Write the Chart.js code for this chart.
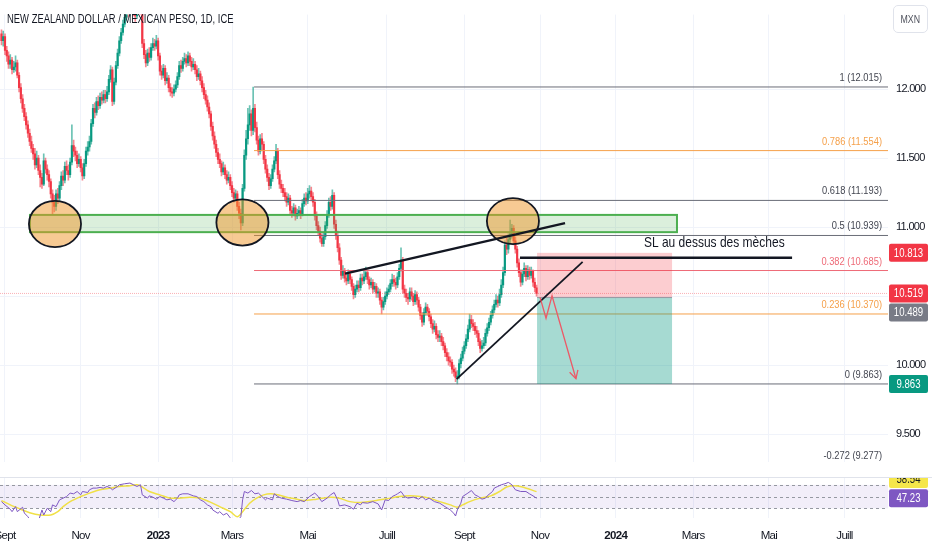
<!DOCTYPE html>
<html lang="fr">
<head>
<meta charset="utf-8">
<title>NZD/MXN 1D</title>
<script src="https://cdn.jsdelivr.net/npm/chart.js@4.4.1/dist/chart.umd.min.js"></script>
<style>
  html, body { margin: 0; background: #ffffff; }
  #wrap { position: relative; width: 932px; height: 550px; overflow: hidden; }
  canvas { position: absolute; left: 0; }
  #main { top: 0; }
  #rsi { top: 477px; }
  #sep { position: absolute; left: 0; top: 477px; width: 932px; height: 1px; background: #e0e3eb; }
  #title { position: absolute; left: 7px; top: 12px; font: 12.5px 'Liberation Sans', Arial, sans-serif; line-height: 14px; color: #131722; white-space: nowrap; transform: scaleX(0.755); transform-origin: 0 0; }
  #unit { position: absolute; left: 893px; top: 5px; width: 35px; height: 28px; box-sizing: border-box; border: 1px solid #e0e3eb; border-radius: 5px; font: 11px 'Liberation Sans', Arial, sans-serif; color: #50535e; display: flex; align-items: center; justify-content: center; }
  #unit span { display: inline-block; transform: scaleX(0.8); }
</style>
</head>
<body>
<div id="wrap">
  <canvas id="main" width="932" height="477"></canvas>
  <canvas id="rsi" width="932" height="73"></canvas>
  <div id="sep"></div>
  <div id="title">NEW ZEALAND DOLLAR / MEXICAN PESO, 1D, ICE</div>
  <div id="unit"><span>MXN</span></div>
</div>
<script>
const FONT = "'Liberation Sans', Arial, sans-serif";
Chart.defaults.font.family = FONT;
Chart.defaults.color = '#131722';

// x = trading-day index, 0 = 1 Sept 2022
const FIRST_BAR = -2;
const X_MIN = -2.84, X_MAX = 501.7;
const Y_MIN = 9.2946, Y_MAX = 12.5395;
const RSI_MIN = 13.6, RSI_MAX = 83.4;
const UP = '#089981', DOWN = '#f23645';

const monthTicks = [0, 43, 87, 129, 172, 217, 261, 304, 347, 391, 434, 477];
const monthLabels = ['Sept', 'Nov', '2023', 'Mars', 'Mai', 'Juill', 'Sept', 'Nov', '2024', 'Mars', 'Mai', 'Juill'];
const priceTicks = [9.5, 10, 10.5, 11, 11.5, 12];

// daily candles, bars -2 .. 302
const opens = [
  12.40, 12.35, 12.38, 12.28, 12.24, 12.18, 12.21, 12.14, 12.16, 12.19,
  12.10, 12.01, 11.93, 11.86, 11.80, 11.74, 11.68, 11.62, 11.57, 11.53,
  11.45, 11.50, 11.41, 11.36, 11.31, 11.48, 11.42, 11.38, 11.33, 11.24,
  11.18, 11.15, 11.24, 11.21, 11.30, 11.37, 11.34, 11.44, 11.41, 11.38,
  11.47, 11.59, 11.55, 11.52, 11.46, 11.49, 11.43, 11.37, 11.46, 11.55,
  11.58, 11.62, 11.75, 11.86, 11.83, 11.91, 11.88, 11.94, 11.92, 11.96,
  11.93, 11.98, 12.07, 12.14, 11.91, 12.05, 12.17, 12.26, 12.35, 12.41,
  12.47, 12.52, 12.57, 12.55, 12.60, 12.62, 12.56, 12.53, 12.58, 12.61,
  12.57, 12.33, 12.25, 12.19, 12.26, 12.23, 12.30, 12.33, 12.31, 12.35,
  12.24, 12.13, 12.10, 12.15, 12.06, 12.08, 12.01, 11.98, 11.97, 12.00,
  12.03, 12.09, 12.17, 12.15, 12.20, 12.22, 12.19, 12.24, 12.20, 12.16,
  12.18, 12.14, 12.09, 12.11, 12.06, 12.01, 11.96, 11.92, 11.87, 11.82,
  11.73, 11.66, 11.60, 11.54, 11.49, 11.46, 11.40, 11.43, 11.38, 11.34,
  11.36, 11.30, 11.25, 11.21, 11.24, 11.15, 11.10, 11.03, 11.28, 11.52,
  11.64, 11.74, 11.82, 11.70, 11.86, 11.72, 11.63, 11.55, 11.64, 11.60,
  11.49, 11.42, 11.36, 11.30, 11.35, 11.42, 11.48, 11.55, 11.38, 11.31,
  11.28, 11.25, 11.22, 11.18, 11.21, 11.12, 11.10, 11.14, 11.08, 11.10,
  11.12, 11.09, 11.17, 11.21, 11.19, 11.24, 11.26, 11.22, 11.18, 11.08,
  11.01, 10.97, 10.92, 10.88, 10.93, 11.01, 11.09, 11.18, 11.15, 11.23,
  11.02, 10.94, 10.85, 10.76, 10.65, 10.68, 10.63, 10.61, 10.66, 10.62,
  10.57, 10.51, 10.55, 10.58, 10.56, 10.63, 10.61, 10.64, 10.67, 10.62,
  10.58, 10.60, 10.55, 10.57, 10.52, 10.53, 10.47, 10.42, 10.46, 10.50,
  10.53, 10.55, 10.59, 10.62, 10.60, 10.58, 10.64, 10.70, 10.76, 10.55,
  10.52, 10.49, 10.48, 10.53, 10.50, 10.46, 10.51, 10.47, 10.42, 10.36,
  10.31, 10.38, 10.42, 10.39, 10.35, 10.30, 10.26, 10.28, 10.22, 10.20,
  10.21, 10.17, 10.14, 10.09, 10.06, 10.03, 10.02, 9.97, 9.95, 9.91,
  9.92, 10.01, 10.05, 10.10, 10.14, 10.19, 10.26, 10.33, 10.30, 10.28,
  10.25, 10.23, 10.17, 10.12, 10.14, 10.16, 10.23, 10.27, 10.31, 10.36,
  10.40, 10.44, 10.47, 10.45, 10.51, 10.58, 10.67, 10.87, 10.84, 10.91,
  10.95, 10.99, 10.90, 10.84, 10.74, 10.67, 10.60, 10.66, 10.70, 10.64,
  10.69, 10.65, 10.68, 10.60, 10.56
];
const highs = [
  12.43, 12.42, 12.40, 12.31, 12.27, 12.25, 12.23, 12.20, 12.24, 12.21,
  12.12, 12.04, 11.96, 11.89, 11.83, 11.77, 11.71, 11.66, 11.60, 11.57,
  11.55, 11.52, 11.45, 11.39, 11.53, 11.50, 11.45, 11.41, 11.35, 11.27,
  11.23, 11.27, 11.28, 11.33, 11.40, 11.41, 11.47, 11.48, 11.45, 11.50,
  11.74, 11.63, 11.58, 11.55, 11.53, 11.51, 11.46, 11.49, 11.58, 11.62,
  11.66, 11.78, 11.89, 11.90, 11.94, 11.95, 11.97, 11.98, 11.99, 11.99,
  12.02, 12.10, 12.17, 12.16, 12.08, 12.20, 12.29, 12.38, 12.44, 12.50,
  12.55, 12.60, 12.61, 12.64, 12.66, 12.64, 12.59, 12.61, 12.65, 12.63,
  12.59, 12.36, 12.28, 12.29, 12.30, 12.33, 12.37, 12.36, 12.39, 12.37,
  12.26, 12.17, 12.18, 12.17, 12.12, 12.10, 12.04, 12.01, 12.03, 12.06,
  12.12, 12.20, 12.21, 12.23, 12.26, 12.25, 12.27, 12.26, 12.23, 12.22,
  12.20, 12.17, 12.15, 12.13, 12.09, 12.04, 11.99, 11.95, 11.90, 11.84,
  11.76, 11.69, 11.63, 11.57, 11.53, 11.48, 11.47, 11.45, 11.41, 11.40,
  11.38, 11.33, 11.28, 11.27, 11.26, 11.18, 11.13, 11.31, 11.56, 11.70,
  11.86, 11.88, 11.85, 12.015, 11.89, 11.76, 11.66, 11.67, 11.68, 11.62,
  11.52, 11.45, 11.39, 11.38, 11.45, 11.51, 11.60, 11.57, 11.41, 11.34,
  11.31, 11.28, 11.25, 11.24, 11.23, 11.15, 11.17, 11.16, 11.13, 11.15,
  11.14, 11.20, 11.24, 11.25, 11.28, 11.30, 11.29, 11.25, 11.20, 11.11,
  11.04, 11.00, 10.95, 10.96, 11.04, 11.12, 11.21, 11.22, 11.27, 11.25,
  11.05, 10.97, 10.88, 10.78, 10.72, 10.70, 10.66, 10.69, 10.68, 10.64,
  10.59, 10.58, 10.61, 10.61, 10.66, 10.66, 10.68, 10.71, 10.69, 10.64,
  10.63, 10.62, 10.60, 10.59, 10.56, 10.55, 10.49, 10.49, 10.53, 10.56,
  10.58, 10.62, 10.66, 10.65, 10.63, 10.67, 10.73, 10.85, 10.78, 10.58,
  10.55, 10.52, 10.56, 10.56, 10.52, 10.54, 10.53, 10.49, 10.44, 10.38,
  10.41, 10.45, 10.44, 10.41, 10.37, 10.33, 10.32, 10.30, 10.25, 10.25,
  10.23, 10.20, 10.16, 10.12, 10.09, 10.06, 10.04, 10.00, 9.98, 9.96,
  10.04, 10.08, 10.13, 10.17, 10.22, 10.29, 10.37, 10.36, 10.33, 10.31,
  10.28, 10.25, 10.19, 10.18, 10.20, 10.26, 10.30, 10.34, 10.39, 10.43,
  10.47, 10.51, 10.50, 10.55, 10.62, 10.71, 10.90, 10.92, 10.95, 11.05,
  11.02, 11.01, 10.93, 10.86, 10.77, 10.69, 10.69, 10.74, 10.72, 10.72,
  10.71, 10.71, 10.69, 10.63, 10.58
];
const lows = [
  12.32, 12.31, 12.25, 12.20, 12.15, 12.15, 12.11, 12.12, 12.13, 12.08,
  11.98, 11.90, 11.83, 11.77, 11.71, 11.65, 11.59, 11.54, 11.49, 11.42,
  11.43, 11.38, 11.29, 11.28, 11.30, 11.39, 11.34, 11.29, 11.21, 11.09,
  11.11, 11.12, 11.17, 11.19, 11.27, 11.30, 11.32, 11.38, 11.34, 11.36,
  11.45, 11.51, 11.48, 11.43, 11.44, 11.40, 11.34, 11.35, 11.44, 11.52,
  11.55, 11.60, 11.73, 11.79, 11.81, 11.85, 11.86, 11.89, 11.90, 11.90,
  11.91, 11.96, 12.05, 11.88, 11.89, 12.03, 12.15, 12.24, 12.33, 12.39,
  12.45, 12.50, 12.52, 12.53, 12.57, 12.53, 12.49, 12.51, 12.55, 12.54,
  12.30, 12.22, 12.16, 12.17, 12.20, 12.21, 12.28, 12.28, 12.29, 12.21,
  12.10, 12.07, 12.08, 12.03, 12.04, 11.98, 11.95, 11.94, 11.95, 11.98,
  12.01, 12.07, 12.12, 12.13, 12.18, 12.16, 12.17, 12.17, 12.13, 12.14,
  12.11, 12.06, 12.07, 12.03, 11.98, 11.93, 11.89, 11.84, 11.79, 11.70,
  11.63, 11.57, 11.51, 11.46, 11.43, 11.37, 11.38, 11.35, 11.31, 11.32,
  11.27, 11.22, 11.18, 11.19, 11.12, 11.06, 10.98, 11.01, 11.26, 11.49,
  11.60, 11.70, 11.66, 11.67, 11.69, 11.60, 11.52, 11.53, 11.56, 11.46,
  11.39, 11.33, 11.27, 11.28, 11.33, 11.40, 11.46, 11.35, 11.28, 11.25,
  11.22, 11.19, 11.15, 11.16, 11.09, 11.07, 11.08, 11.05, 11.06, 11.08,
  11.06, 11.08, 11.15, 11.16, 11.17, 11.21, 11.19, 11.15, 11.05, 10.98,
  10.94, 10.89, 10.86, 10.86, 10.91, 10.99, 11.07, 11.12, 11.13, 10.99,
  10.91, 10.82, 10.73, 10.62, 10.63, 10.60, 10.58, 10.59, 10.59, 10.54,
  10.48, 10.49, 10.53, 10.53, 10.54, 10.58, 10.59, 10.62, 10.59, 10.55,
  10.56, 10.52, 10.53, 10.49, 10.49, 10.44, 10.37, 10.40, 10.44, 10.48,
  10.51, 10.53, 10.57, 10.57, 10.55, 10.56, 10.62, 10.68, 10.52, 10.49,
  10.46, 10.44, 10.46, 10.47, 10.43, 10.44, 10.44, 10.39, 10.33, 10.28,
  10.29, 10.36, 10.36, 10.32, 10.27, 10.23, 10.24, 10.19, 10.17, 10.17,
  10.14, 10.11, 10.06, 10.03, 10.00, 9.99, 9.94, 9.92, 9.88, 9.863,
  9.90, 9.98, 10.03, 10.08, 10.12, 10.17, 10.24, 10.27, 10.25, 10.22,
  10.20, 10.14, 10.09, 10.10, 10.12, 10.14, 10.21, 10.25, 10.29, 10.34,
  10.38, 10.42, 10.42, 10.43, 10.49, 10.56, 10.65, 10.80, 10.81, 10.88,
  10.92, 10.87, 10.81, 10.71, 10.64, 10.57, 10.58, 10.64, 10.61, 10.62,
  10.62, 10.63, 10.57, 10.53, 10.50
];
const closes = [
  12.35, 12.38, 12.28, 12.24, 12.18, 12.21, 12.14, 12.16, 12.19, 12.10,
  12.01, 11.93, 11.86, 11.80, 11.74, 11.68, 11.62, 11.57, 11.53, 11.45,
  11.50, 11.41, 11.36, 11.31, 11.48, 11.42, 11.38, 11.33, 11.24, 11.18,
  11.15, 11.24, 11.21, 11.30, 11.37, 11.34, 11.44, 11.41, 11.38, 11.47,
  11.59, 11.55, 11.52, 11.46, 11.49, 11.43, 11.37, 11.46, 11.55, 11.58,
  11.62, 11.75, 11.86, 11.83, 11.91, 11.88, 11.94, 11.92, 11.96, 11.93,
  11.98, 12.07, 12.14, 11.91, 12.05, 12.17, 12.26, 12.35, 12.41, 12.47,
  12.52, 12.57, 12.55, 12.60, 12.62, 12.56, 12.53, 12.58, 12.61, 12.57,
  12.33, 12.25, 12.19, 12.26, 12.23, 12.30, 12.33, 12.31, 12.35, 12.24,
  12.13, 12.10, 12.15, 12.06, 12.08, 12.01, 11.98, 11.97, 12.00, 12.03,
  12.09, 12.17, 12.15, 12.20, 12.22, 12.19, 12.24, 12.20, 12.16, 12.18,
  12.14, 12.09, 12.11, 12.06, 12.01, 11.96, 11.92, 11.87, 11.82, 11.73,
  11.66, 11.60, 11.54, 11.49, 11.46, 11.40, 11.43, 11.38, 11.34, 11.36,
  11.30, 11.25, 11.21, 11.24, 11.15, 11.10, 11.03, 11.28, 11.52, 11.64,
  11.74, 11.82, 11.70, 11.86, 11.72, 11.63, 11.55, 11.64, 11.60, 11.49,
  11.42, 11.36, 11.30, 11.35, 11.42, 11.48, 11.55, 11.38, 11.31, 11.28,
  11.25, 11.22, 11.18, 11.21, 11.12, 11.10, 11.14, 11.08, 11.10, 11.12,
  11.09, 11.17, 11.21, 11.19, 11.24, 11.26, 11.22, 11.18, 11.08, 11.01,
  10.97, 10.92, 10.88, 10.93, 11.01, 11.09, 11.18, 11.15, 11.23, 11.02,
  10.94, 10.85, 10.76, 10.65, 10.68, 10.63, 10.61, 10.66, 10.62, 10.57,
  10.51, 10.55, 10.58, 10.56, 10.63, 10.61, 10.64, 10.67, 10.62, 10.58,
  10.60, 10.55, 10.57, 10.52, 10.53, 10.47, 10.42, 10.46, 10.50, 10.53,
  10.55, 10.59, 10.62, 10.60, 10.58, 10.64, 10.70, 10.76, 10.55, 10.52,
  10.49, 10.48, 10.53, 10.50, 10.46, 10.51, 10.47, 10.42, 10.36, 10.31,
  10.38, 10.42, 10.39, 10.35, 10.30, 10.26, 10.28, 10.22, 10.20, 10.21,
  10.17, 10.14, 10.09, 10.06, 10.03, 10.02, 9.97, 9.95, 9.91, 9.92,
  10.01, 10.05, 10.10, 10.14, 10.19, 10.26, 10.33, 10.30, 10.28, 10.25,
  10.23, 10.17, 10.12, 10.14, 10.16, 10.23, 10.27, 10.31, 10.36, 10.40,
  10.44, 10.47, 10.45, 10.51, 10.58, 10.67, 10.87, 10.84, 10.91, 10.95,
  10.99, 10.90, 10.84, 10.74, 10.67, 10.60, 10.66, 10.70, 10.64, 10.69,
  10.65, 10.68, 10.60, 10.56, 10.519
];

const rsiBars = [
  -2, 0, 3, 4, 6, 7, 10, 11, 13, 15,
  19, 21, 22, 24, 26, 27, 29, 31, 33, 35,
  37, 39, 41, 43, 44, 47, 48, 50, 52, 54,
  56, 58, 60, 61, 64, 65, 68, 71, 73, 75,
  77, 78, 81, 82, 84, 86, 88, 90, 92, 94,
  96, 98, 99, 101, 104, 107, 109, 111, 113, 115,
  117, 118, 121, 122, 124, 126, 129, 132, 134, 135,
  136, 138, 140, 142, 144, 146, 148, 149, 152, 153,
  155, 157, 160, 163, 166, 168, 170, 173, 176, 178,
  180, 183, 185, 187, 189, 190, 193, 196, 198, 200,
  202, 203, 206, 209, 212, 214, 216, 218, 220, 222,
  223, 225, 227, 229, 232, 235, 237, 239, 241, 244,
  247, 250, 253, 255, 256, 257, 259, 260, 263, 265,
  267, 269, 271, 273, 274, 277, 278, 280, 282, 284,
  286, 288, 290, 293, 296, 298, 300, 302
];
const rsiValues = [
  41.5, 35.9, 28.5, 24.4, 33.0, 24.4, 31.9, 22.1, 15.8, 7.0,
  8.4, 27.3, 18.7, 30.2, 24.4, 35.9, 32.9, 44.5, 47.4, 50.1,
  56.0, 54.8, 58.7, 53.0, 58.7, 57.0, 61.6, 64.5, 64.5, 65.6,
  64.5, 67.3, 64.5, 61.6, 67.3, 70.2, 71.9, 73.1, 70.2, 67.3,
  70.2, 53.0, 47.4, 51.3, 49.1, 45.7, 50.1, 47.4, 44.5, 45.7,
  41.5, 47.4, 53.0, 54.8, 54.8, 51.3, 50.1, 44.5, 41.5, 35.9,
  32.9, 27.3, 21.6, 24.4, 18.7, 21.6, 10.0, 8.4, 15.8, 44.5,
  58.7, 56.0, 60.4, 54.8, 56.0, 50.1, 44.5, 47.4, 44.5, 54.8,
  50.1, 47.4, 45.7, 43.3, 41.5, 43.3, 41.5, 50.1, 56.0, 50.1,
  41.5, 47.4, 53.0, 57.0, 44.5, 34.2, 35.9, 32.9, 28.5, 38.8,
  35.9, 39.8, 38.8, 41.5, 37.6, 27.3, 44.5, 43.3, 50.1, 53.0,
  54.8, 58.7, 50.1, 47.4, 49.1, 45.7, 50.1, 44.5, 47.4, 41.5,
  38.8, 32.9, 27.3, 21.6, 17.0, 27.3, 38.8, 50.1, 56.0, 60.4,
  53.0, 50.1, 45.7, 47.4, 51.3, 58.7, 64.5, 67.3, 70.2, 71.9,
  74.2, 70.2, 61.6, 58.7, 58.7, 54.8, 51.3, 47.23
];
const maBars = [
  -2, 3, 9, 14, 20, 26, 30, 33, 37, 43,
  48, 54, 60, 65, 71, 75, 78, 82, 88, 94,
  99, 105, 111, 116, 122, 128, 132, 135, 139, 143,
  147, 151, 155, 160, 166, 169, 177, 185, 190, 196,
  202, 207, 213, 219, 224, 230, 236, 241, 247, 253,
  257, 260, 264, 270, 276, 281, 285, 289, 294, 302
];
const maValues = [
  43.3, 35.9, 28.5, 22.6, 18.7, 18.7, 24.4, 32.9, 41.5, 50.1,
  56.0, 61.6, 64.5, 67.3, 68.5, 70.2, 66.3, 58.7, 53.0, 47.4,
  47.4, 49.1, 47.4, 41.5, 32.9, 24.4, 15.8, 24.4, 38.8, 47.4,
  53.0, 54.8, 53.0, 49.1, 45.7, 43.3, 45.7, 49.1, 47.4, 41.5,
  39.8, 41.5, 44.5, 47.4, 50.1, 51.3, 50.1, 47.4, 41.5, 35.9,
  31.9, 35.9, 41.5, 47.4, 51.3, 58.7, 66.3, 68.5, 66.3, 58.54
];
const rsiLevels = [70, 50, 30];

// fibonacci retracement, high 12.015 -> low 9.863
const fibLevels = [1, 0.786, 0.618, 0.5, 0.382, 0.236, 0, -0.272];
const fibPrices = [12.015, 11.554, 11.193, 10.939, 10.685, 10.370, 9.863, 9.277];

// short position
const lastClose = 10.519;
const stopPrice = 10.813;
const entryPrice = 10.489;
const targetPrice = 9.863;

// drawing anchors, in (bar, price)
const FIB_FROM = 141.5;
const zone = { from: 14.2, to: 381.8, top: 11.088, bottom: 10.963 };
const circles = [[28.4, 11.022], [134.9, 11.033], [288.6, 11.043]];
const CIRCLE_RX = 14.8, CIRCLE_RY = 0.167;
const trendLines = [
  { a: [193.2, 10.662], b: [318.2, 11.029], w: 2.4 },
  { a: [256.6, 9.898], b: [328.2, 10.748], w: 1.8 },
  { a: [292.6, 10.778], b: [447.2, 10.778], w: 2.4 }
];
const position = { from: 302.3, to: 379 };
const arrowPath = [[304, 10.49], [307.4, 10.339], [310.8, 10.502], [324.4, 9.901]];
const note = { bar: 363, price: 10.853, text: 'SL au dessus des mèches' };

const bodies = opens.map((o, i) => ({ x: FIRST_BAR + i, y: [o, closes[i]] }));
const wicks = lows.map((l, i) => ({ x: FIRST_BAR + i, y: [l, highs[i]] }));
const candleColors = opens.map((o, i) => closes[i] >= o ? UP : DOWN);
const wickColors = candleColors.map(c => c + '99');

// narrow text, as on the original chart
function narrowText(ctx, text, x, y, sx) {
  ctx.save();
  ctx.translate(x, y);
  ctx.scale(sx, 1);
  ctx.fillText(text, 0, 0);
  ctx.restore();
}

const tightLabels = {
  id: 'tightLabels',
  beforeDraw(chart) { chart.ctx.letterSpacing = '-0.7px'; }
};

function timeAxis(showLabels) {
  return {
    type: 'linear', min: X_MIN, max: X_MAX, offset: false,
    afterBuildTicks: s => { s.ticks = monthTicks.map(v => ({ value: v })); },
    afterFit: s => { s.height = showLabels ? 32 : 0; s.paddingLeft = 0; s.paddingRight = 0; },
    grid: { color: '#f0f3fa', drawTicks: false, offset: false },
    border: { display: false },
    ticks: {
      display: showLabels, autoSkip: false, maxRotation: 0, padding: 11, color: '#131722',
      font: c => ({ family: FONT, size: 11.5, weight: /^\d{4}$/.test(monthLabels[c.index]) ? 'bold' : 'normal' }),
      callback: (v, i) => monthLabels[i]
    }
  };
}

function fibColor(level) {
  if (level === 0.786 || level === 0.236) return '#f5a04a';
  if (level === 0.382) return '#ee6b78';
  return null;
}

function axisBox(ctx, a, yc, bg, fg, text) {
  ctx.fillStyle = bg;
  ctx.beginPath();
  ctx.roundRect(a.right + 1, yc - 9, 39, 18, 2);
  ctx.fill();
  ctx.fillStyle = fg;
  ctx.letterSpacing = '0px';
  ctx.font = '12px ' + FONT;
  ctx.textAlign = 'center';
  ctx.textBaseline = 'middle';
  narrowText(ctx, text, a.right + 20.5, yc + 0.5, 0.8);
}

const drawings = {
  id: 'drawings',
  afterDatasetsDraw(chart) {
    const { ctx, chartArea: a } = chart;
    const X = chart.scales.x, Y = chart.scales.y;
    const px = b => X.getPixelForValue(b), py = p => Y.getPixelForValue(p);
    const seg = (x1, y1, x2, y2, color, w, dash) => {
      ctx.beginPath();
      ctx.setLineDash(dash || []);
      ctx.strokeStyle = color; ctx.lineWidth = w;
      ctx.moveTo(x1, y1); ctx.lineTo(x2, y2); ctx.stroke();
      ctx.setLineDash([]);
    };

    ctx.save();
    ctx.beginPath(); ctx.rect(a.left, a.top, a.width, a.height); ctx.clip();

    // last price line
    seg(a.left, py(lastClose), a.right, py(lastClose), 'rgba(242,54,69,0.4)', 1, [1, 1]);

    // support zone
    const zx1 = px(zone.from), zx2 = px(zone.to), zy1 = py(zone.top), zy2 = py(zone.bottom);
    ctx.fillStyle = 'rgba(76,175,80,0.2)';
    ctx.fillRect(zx1, zy1, zx2 - zx1, zy2 - zy1);
    ctx.strokeStyle = '#4caf50'; ctx.lineWidth = 2;
    ctx.strokeRect(zx1, zy1, zx2 - zx1, zy2 - zy1);

    // fib lines
    fibPrices.forEach((p, i) => {
      seg(px(FIB_FROM), py(p), a.right, py(p), fibColor(fibLevels[i]) || '#6a6d78', 1);
    });

    // short position tool
    const qx1 = px(position.from), qx2 = px(position.to);
    ctx.fillStyle = 'rgba(242,54,69,0.25)';
    ctx.fillRect(qx1, py(stopPrice), qx2 - qx1, py(entryPrice) - py(stopPrice));
    ctx.fillStyle = 'rgba(8,153,129,0.36)';
    ctx.fillRect(qx1, py(entryPrice), qx2 - qx1, py(targetPrice) - py(entryPrice));
    seg(qx1, py(entryPrice), qx2, py(entryPrice), '#9598a1', 1);

    // circles on the touches
    circles.forEach(([b, p]) => {
      const cx = px(b), cy = py(p);
      ctx.beginPath();
      ctx.ellipse(cx, cy, px(b + CIRCLE_RX) - cx, cy - py(p + CIRCLE_RY), 0, 0, Math.PI * 2);
      ctx.fillStyle = 'rgba(240,150,40,0.5)';
      ctx.fill();
      ctx.strokeStyle = '#131722'; ctx.lineWidth = 1.8;
      ctx.stroke();
    });

    // trend lines
    trendLines.forEach(t => seg(px(t.a[0]), py(t.a[1]), px(t.b[0]), py(t.b[1]), '#131722', t.w));

    // projected path with arrow head
    ctx.beginPath();
    ctx.strokeStyle = '#ec5a67'; ctx.lineWidth = 1.3;
    arrowPath.forEach(([b, p], i) => i ? ctx.lineTo(px(b), py(p)) : ctx.moveTo(px(b), py(p)));
    ctx.stroke();
    const [e1, e2] = arrowPath.slice(-2);
    const ex = px(e2[0]), ey = py(e2[1]);
    const ang = Math.atan2(ey - py(e1[1]), ex - px(e1[0]));
    ctx.beginPath();
    ctx.moveTo(ex - 9 * Math.cos(ang - 0.5), ey - 9 * Math.sin(ang - 0.5));
    ctx.lineTo(ex, ey);
    ctx.lineTo(ex - 9 * Math.cos(ang + 0.5), ey - 9 * Math.sin(ang + 0.5));
    ctx.stroke();
    ctx.restore();

    // fib labels
    ctx.save();
    ctx.letterSpacing = '0px';
    ctx.font = '11.5px ' + FONT;
    ctx.textAlign = 'right';
    ctx.textBaseline = 'alphabetic';
    fibPrices.forEach((p, i) => {
      ctx.fillStyle = fibColor(fibLevels[i]) || '#434651';
      narrowText(ctx, fibLevels[i] + ' (' + p.toFixed(3) + ')', a.right - 6, py(p) - 6, 0.81);
    });

    // note
    ctx.font = '15px ' + FONT;
    ctx.textAlign = 'left';
    ctx.fillStyle = '#131722';
    narrowText(ctx, note.text, px(note.bar), py(note.price), 0.8);
    ctx.restore();
  },
  afterDraw(chart) {
    const { ctx, chartArea: a } = chart;
    const py = p => chart.scales.y.getPixelForValue(p);
    ctx.save();
    axisBox(ctx, a, py(stopPrice), DOWN, '#ffffff', stopPrice.toFixed(3));
    axisBox(ctx, a, py(lastClose), DOWN, '#ffffff', lastClose.toFixed(3));
    axisBox(ctx, a, py(entryPrice) + 15, '#787b86', '#ffffff', entryPrice.toFixed(3));
    axisBox(ctx, a, py(targetPrice), UP, '#ffffff', targetPrice.toFixed(3));
    ctx.restore();
  }
};

const rsiPane = {
  id: 'rsiPane',
  beforeDatasetsDraw(chart) {
    const { ctx, chartArea: a } = chart;
    const py = v => chart.scales.y.getPixelForValue(v);
    ctx.save();
    ctx.fillStyle = 'rgba(126,87,194,0.1)';
    ctx.fillRect(a.left, py(rsiLevels[0]), a.width, py(rsiLevels[2]) - py(rsiLevels[0]));
    ctx.strokeStyle = '#9598a1'; ctx.lineWidth = 1; ctx.setLineDash([3, 3]);
    rsiLevels.forEach(v => {
      ctx.beginPath();
      ctx.moveTo(a.left, Math.round(py(v)) + 0.5);
      ctx.lineTo(a.right, Math.round(py(v)) + 0.5);
      ctx.stroke();
    });
    ctx.restore();
  },
  afterDraw(chart) {
    const { ctx, chartArea: a } = chart;
    const py = v => chart.scales.y.getPixelForValue(v);
    ctx.save();
    axisBox(ctx, a, 2, '#f5e64b', '#131722', maValues[maValues.length - 1].toFixed(2));
    axisBox(ctx, a, py(rsiValues[rsiValues.length - 1]), '#7e57c2', '#ffffff', rsiValues[rsiValues.length - 1].toFixed(2));
    ctx.restore();
  }
};

new Chart(document.getElementById('main'), {
  type: 'bar',
  data: {
    datasets: [
      { data: bodies, backgroundColor: candleColors, barThickness: 1.5, grouped: false, borderWidth: 0 },
      { data: wicks, backgroundColor: wickColors, barThickness: 1, grouped: false, borderWidth: 0 }
    ]
  },
  options: {
    responsive: false,
    animation: false,
    layout: { padding: 0, autoPadding: false },
    plugins: { legend: { display: false }, tooltip: { enabled: false } },
    scales: {
      x: timeAxis(false),
      y: {
        position: 'right', min: Y_MIN, max: Y_MAX,
        afterBuildTicks: s => { s.ticks = priceTicks.map(v => ({ value: v })); },
        afterFit: s => { s.width = 44; },
        grid: { color: '#f0f3fa', drawTicks: false },
        border: { display: false },
        ticks: { padding: 8, font: { size: 11 }, color: '#131722', callback: v => v.toFixed(3) }
      }
    }
  },
  plugins: [tightLabels, drawings]
});

new Chart(document.getElementById('rsi'), {
  type: 'line',
  data: {
    datasets: [
      { data: rsiBars.map((b, i) => ({ x: b, y: rsiValues[i] })), borderColor: '#7e57c2', borderWidth: 1, pointRadius: 0, tension: 0 },
      { data: maBars.map((b, i) => ({ x: b, y: maValues[i] })), borderColor: '#f0e046', borderWidth: 1.5, pointRadius: 0, tension: 0.3 }
    ]
  },
  options: {
    responsive: false,
    animation: false,
    layout: { padding: 0, autoPadding: false },
    plugins: { legend: { display: false }, tooltip: { enabled: false } },
    scales: {
      x: timeAxis(true),
      y: {
        position: 'right', min: RSI_MIN, max: RSI_MAX,
        afterFit: s => { s.width = 44; },
        grid: { display: false },
        border: { display: false },
        ticks: { display: false }
      }
    }
  },
  plugins: [tightLabels, rsiPane]
});
</script>
</body>
</html>
